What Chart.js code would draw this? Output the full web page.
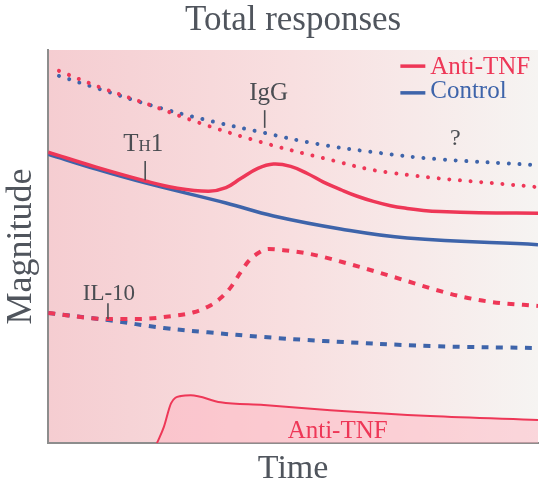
<!DOCTYPE html>
<html>
<head>
<meta charset="utf-8">
<style>
html,body{margin:0;padding:0;background:#ffffff;}
#wrap{width:550px;height:489px;}
</style>
<script src="https://cdn.jsdelivr.net/npm/chart.js@4.4.1/dist/chart.umd.min.js"></script>
</head>
<body>
<div id="wrap"><canvas id="c" width="550" height="489"></canvas></div>
<script>
// ---- data (x = time 0..100, y = magnitude 0..100) ----
const th1AntiTime = [0, 9.8, 19.8, 26.1, 32.8, 36.3, 39.3, 42.8, 46.0, 49.5, 52.9, 56.2, 59.7, 63.1, 66.4, 69.9, 73.3, 76.6, 80.0, 88.0, 100];
const th1AntiVal  = [74.0, 70.2, 66.7, 64.9, 64.1, 65.0, 67.3, 69.9, 71.0, 70.4, 68.6, 66.4, 64.5, 62.8, 61.5, 60.4, 59.7, 59.2, 58.9, 58.6, 58.5];

const th1CtrlTime = [0, 9.8, 19.8, 36.3, 46.0, 59.7, 73.3, 100];
const th1CtrlVal  = [73.5, 69.7, 66.2, 61.1, 57.8, 54.5, 52.2, 50.5];

const iggAntiTime = [2.2, 10.4, 20.8, 31.0, 43.4, 56.2, 69.2, 100];
const iggAntiVal  = [94.7, 90.6, 86.0, 81.4, 76.6, 72.5, 68.9, 65.1];

const iggCtrlTime = [2.2, 10.4, 20.8, 31.6, 44.2, 55.0, 67.8, 79.0, 100];
const iggCtrlVal  = [93.4, 90.1, 86.0, 82.4, 78.9, 76.1, 73.8, 72.3, 70.7];

const il10AntiTime = [0, 12.2, 18.3, 25.0, 29.7, 33.2, 35.2, 37.3, 39.3, 40.9, 42.8, 45.0, 48.0, 53.6, 61.7, 67.8, 73.9, 78.6, 84.7, 90.6, 100];
const il10AntiVal  = [33.1, 31.6, 31.6, 32.3, 33.3, 35.1, 36.9, 39.7, 43.5, 46.3, 48.3, 49.4, 49.1, 48.1, 45.5, 43.3, 41.0, 39.2, 37.2, 35.9, 34.9];

const il10CtrlTime = [0, 12.2, 23.6, 32.6, 44.0, 56.2, 78.6, 100];
const il10CtrlVal  = [33.1, 31.3, 29.3, 28.2, 27.0, 26.0, 24.7, 24.2];

const drugTime = [22.2, 23.6, 25.1, 27.1, 29.1, 35.2, 44.0, 57.6, 78.0, 100];
const drugVal  = [0, 4.1, 10.2, 12.0, 12.2, 10.4, 9.7, 8.4, 6.9, 5.9];

const seriesNames = ['Anti-TNF', 'Control'];

// ---- styling ----
const RED = '#ee3757';
const BLUE = '#3e64aa';
const GREY_TXT = '#4a4d52';
const TITLE_TXT = '#50555d';
const AXIS = '#8d8d8d';
const FAMILY = "'Liberation Serif', 'Times New Roman', serif";

function pts(xs, ys) { return xs.map((v, i) => ({x: v, y: ys[i]})); }

const bgPlugin = {
  id: 'bgGradient',
  beforeDraw(chart) {
    const {ctx, chartArea: a} = chart;
    const g = ctx.createLinearGradient(a.left, 0, a.right, 0);
    g.addColorStop(0, '#f5cdd1');
    g.addColorStop(0.5, '#f8dfe0');
    g.addColorStop(1, '#f6f4f2');
    ctx.save();
    ctx.fillStyle = g;
    ctx.fillRect(a.left, a.top, a.right - a.left, a.bottom - a.top);
    ctx.restore();
  }
};

// annotation positions in data units
const markers = [
  {x: 19.8, y0: 71.8, y1: 66.9},
  {x: 44.2, y0: 84.7, y1: 80.2},
  {x: 12.2, y0: 35.6, y1: 31.6}
];
const labels = [
  {text: 'IgG', x: 45.0, y: 87.3, size: 25, color: GREY_TXT},
  {text: 'IL-10', x: 12.4, y: 36.4, size: 23, color: GREY_TXT},
  {text: '?', x: 83.1, y: 75.8, size: 24, color: GREY_TXT},
  {text: 'Anti-TNF', x: 59.1, y: 1.3, size: 25, color: RED}
];

const annoPlugin = {
  id: 'annotations',
  afterDatasetsDraw(chart) {
    const {ctx, scales: {x, y}} = chart;
    const px = v => x.getPixelForValue(v);
    const py = v => y.getPixelForValue(v);
    ctx.save();
    ctx.strokeStyle = GREY_TXT;
    ctx.lineWidth = 1.6;
    markers.forEach(m => {
      ctx.beginPath();
      ctx.moveTo(px(m.x), py(m.y0));
      ctx.lineTo(px(m.x), py(m.y1));
      ctx.stroke();
    });
    ctx.textBaseline = 'alphabetic';
    ctx.textAlign = 'center';
    labels.forEach(l => {
      ctx.font = l.size + 'px ' + FAMILY;
      ctx.fillStyle = l.color;
      ctx.fillText(l.text, px(l.x), py(l.y));
    });
    // T_H1 label
    ctx.textAlign = 'left';
    ctx.fillStyle = GREY_TXT;
    let cx = px(15.3);
    const by = py(74.3);
    ctx.font = '25px ' + FAMILY;
    ctx.fillText('T', cx, by);
    cx += ctx.measureText('T').width;
    ctx.font = '17px ' + FAMILY;
    ctx.fillText('H', cx, by);
    cx += ctx.measureText('H').width;
    ctx.font = '25px ' + FAMILY;
    ctx.fillText('1', cx, by);
    // legend
    const legendItems = [
      {name: seriesNames[0], color: RED, ly: 95.9, ty: 93.9},
      {name: seriesNames[1], color: BLUE, ly: 89.1, ty: 87.8}
    ];
    legendItems.forEach(it => {
      ctx.strokeStyle = it.color;
      ctx.lineWidth = 3.5;
      ctx.beginPath();
      ctx.moveTo(px(71.9), py(it.ly));
      ctx.lineTo(px(77.0), py(it.ly));
      ctx.stroke();
      ctx.font = '25px ' + FAMILY;
      ctx.fillStyle = it.color;
      ctx.fillText(it.name, px(78.0), py(it.ty));
    });
    ctx.restore();
  }
};

const smooth = {pointRadius: 0, fill: false, tension: 0.4};
const mono = {pointRadius: 0, fill: false, cubicInterpolationMode: 'monotone'};

new Chart(document.getElementById('c'), {
  type: 'line',
  data: {
    datasets: [
      Object.assign({}, smooth, {label: 'TH1 Anti-TNF', data: pts(th1AntiTime, th1AntiVal), borderColor: RED, borderWidth: 3.5, order: 1}),
      Object.assign({}, smooth, {label: 'TH1 Control', data: pts(th1CtrlTime, th1CtrlVal), borderColor: BLUE, borderWidth: 3.5, order: 2}),
      Object.assign({}, smooth, {label: 'IgG Anti-TNF', data: pts(iggAntiTime, iggAntiVal), borderColor: RED, borderWidth: 4, borderDash: [0.001, 10.7], borderCapStyle: 'round', order: 3}),
      Object.assign({}, smooth, {label: 'IgG Control', data: pts(iggCtrlTime, iggCtrlVal), borderColor: BLUE, borderWidth: 4, borderDash: [0.001, 10.7], borderCapStyle: 'round', order: 4}),
      Object.assign({}, mono, {label: 'IL-10 Anti-TNF', data: pts(il10AntiTime, il10AntiVal), borderColor: RED, borderWidth: 4, borderDash: [7, 7.5], order: 5}),
      Object.assign({}, smooth, {label: 'IL-10 Control', data: pts(il10CtrlTime, il10CtrlVal), borderColor: BLUE, borderWidth: 4, borderDash: [7, 7.5], order: 6}),
      Object.assign({}, mono, {label: 'Anti-TNF drug', data: pts(drugTime, drugVal), borderColor: RED, borderWidth: 2, fill: 'origin', backgroundColor: 'rgba(255,178,190,0.45)', order: 7})
    ]
  },
  options: {
    responsive: false,
    animation: false,
    events: [],
    layout: {padding: {left: 0, right: 12, top: 0, bottom: 0}, autoPadding: false},
    plugins: {
      legend: {display: false},
      tooltip: {enabled: false},
      title: {
        display: true, text: 'Total responses', fullSize: false, color: TITLE_TXT,
        font: {family: FAMILY, size: 35, weight: 'normal'},
        padding: {top: 0, bottom: 8}
      }
    },
    scales: {
      x: {
        type: 'linear', min: 0, max: 100,
        grid: {display: false, drawTicks: false},
        border: {display: true, color: AXIS, width: 2},
        ticks: {display: false},
        title: {display: true, text: 'Time', color: TITLE_TXT, font: {family: FAMILY, size: 34, weight: 'normal'}, padding: {top: 5, bottom: 0}}
      },
      y: {
        type: 'linear', min: 0, max: 100,
        grid: {display: false, drawTicks: false},
        border: {display: true, color: AXIS, width: 2},
        ticks: {display: false},
        title: {display: true, text: 'Magnitude', color: TITLE_TXT, font: {family: FAMILY, size: 36, weight: 'normal'}, padding: {top: 0, bottom: 5}}
      }
    }
  },
  plugins: [bgPlugin, annoPlugin]
});
</script>
</body>
</html>
